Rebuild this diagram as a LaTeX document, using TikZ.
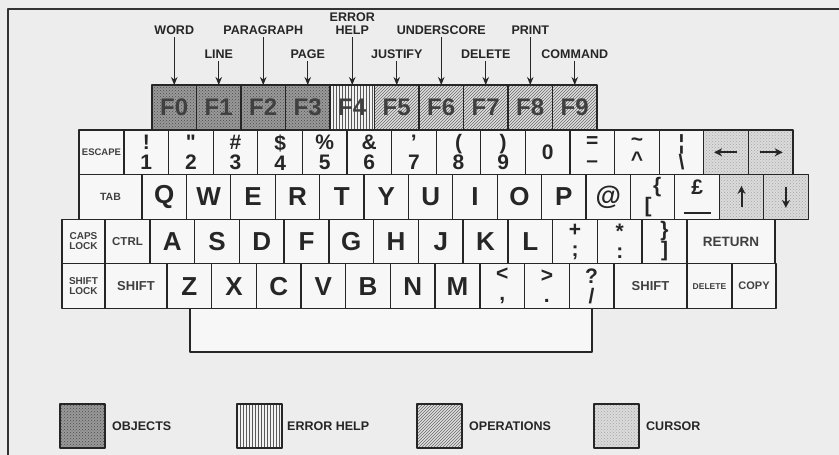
\documentclass[tikz,border=0pt]{standalone}
\usepackage{fontspec}
\setmainfont{Liberation Sans}
\newfontfamily\keyfont{Liberation Sans}
\usetikzlibrary{positioning,patterns,arrows.meta}
\tikzset{
  key/.style={draw=black!85,line width=1.3pt,fill=black!3,anchor=north west,inner sep=0pt,outer sep=0pt,
    minimum width=44.6pt,minimum height=44.6pt,align=center,text=black!85},
  bigletter/.style={font=\fontsize{26}{26}\selectfont\bfseries},
  twin/.style={font=\keyfont\fontsize{21}{20}\selectfont\bfseries},
  smallkey/.style={font=\fontsize{#1}{#1}\selectfont\bfseries,text=black!75},
  fkey/.style={minimum width=44.5pt,minimum height=45pt,font=\fontsize{24}{24}\selectfont\bfseries,text=black!75},
  objkey/.style={preaction={fill=black!40},pattern=crosshatch dots,pattern color=black!70},
  helpkey/.style={preaction={fill=black!5},pattern=vertical lines,pattern color=black!65},
  opkey/.style={preaction={fill=black!12},pattern=north east lines,pattern color=black!60},
  cursorkey/.style={preaction={fill=black!14},pattern=crosshatch dots,pattern color=black!35},
  lab/.style={font=\fontsize{12.5}{13}\selectfont\bfseries,text=black!85,align=center,inner sep=2pt},
  legendbox/.style={line width=2.2pt,minimum width=45pt,minimum height=44pt},
  legtext/.style={font=\fontsize{12.5}{13}\selectfont\bfseries,text=black!85,inner sep=2pt},
  curarrow/.style={-{Stealth[length=8pt,width=8pt]},line width=2pt,black!85}
}
\begin{document}
\begin{tikzpicture}[x=1pt,y=-1pt,>={Stealth[length=8pt,width=6.5pt]},line join=round]
\fill[black!7] (0,0) rectangle (839,455);
\useasboundingbox (0,0) rectangle (839,455);
\draw[line width=1.8pt,black!80] (839,9) -- (8,9) -- (8,455);

\foreach \i in {0,...,3}
  \node[key,fkey,objkey] (f\i) at ({152+44.5*\i},85) {F\i};
\node[key,fkey,helpkey] (f4) at (330,85) {F4};
\foreach \i in {5,...,9}
  \node[key,fkey,opkey] (f\i) at ({152+44.5*\i},85) {F\i};

\node[lab,above=48pt of f0] (lword) {WORD};
\node[lab,above=24pt of f1] (lline) {LINE};
\node[lab,above=48pt of f2] (lpara) {PARAGRAPH};
\node[lab,above=24pt of f3] (lpage) {PAGE};
\node[lab,above=48pt of f4] (lerr) {ERROR\\HELP};
\node[lab,above=24pt of f5] (ljust) {JUSTIFY};
\node[lab,above=48pt of f6] (lunder) {UNDERSCORE};
\node[lab,above=24pt of f7] (ldel) {DELETE};
\node[lab,above=48pt of f8] (lprint) {PRINT};
\node[lab,above=24pt of f9] (lcmd) {COMMAND};
\foreach \l/\f in {lword/f0,lline/f1,lpara/f2,lpage/f3,lerr/f4,ljust/f5,lunder/f6,ldel/f7,lprint/f8,lcmd/f9}
  \draw[->,line width=1.2pt,black!85] (\l) -- (\f);

\node[key,smallkey=9.5,minimum width=45pt] (esc) at (79,130) {ESCAPE};
\foreach \t [count=\i from 0] in {{!\\1},{"\\2},{\#\\3},{\$\\4},{\%\\5},{\&\\6},{’\\7},{(\\8},{)\\9},{0},{=\\–},{\textasciitilde\\\textasciicircum},{¦\\\textbackslash}}
  \node[key,twin] (n\i) at ({124+44.6*\i},130) {\t};
\node[key,cursorkey] (n13) at (703.8,130) {};
\node[key,cursorkey] (n14) at (748.4,130) {};
\draw[curarrow] ([xshift=11pt]n13.center) -- ([xshift=-12pt]n13.center);
\draw[curarrow] ([xshift=-11pt]n14.center) -- ([xshift=12pt]n14.center);

\node[key,smallkey=10.5,minimum width=63pt] (tab) at (79,174.6) {TAB};
\foreach \t [count=\i from 0] in {Q,W,E,R,T,Y,U,I,O,P,@}
  \node[key,bigletter] (q\i) at ({142+44.4*\i},174.6) {\t};
\node[key,twin] (q11) at (630.4,174.6) {\hspace*{9pt}\{\\{[}\hspace*{9pt}};
\node[key,twin] (q12) at (674.8,174.6) {£\\[-1pt]\rule{27pt}{1.6pt}};
\node[key,cursorkey] (q13) at (719.2,174.6) {};
\node[key,cursorkey] (q14) at (763.6,174.6) {};
\draw[curarrow] ([yshift=-10pt]q13.center) -- ([yshift=11pt]q13.center);
\draw[curarrow] ([yshift=10pt]q14.center) -- ([yshift=-11pt]q14.center);

\node[key,smallkey=10,minimum width=43pt] (caps) at (62,219.2) {CAPS\\LOCK};
\node[key,smallkey=11.5,minimum width=45pt] (ctrl) at (105,219.2) {CTRL};
\foreach \t [count=\i from 0] in {A,S,D,F,G,H,J,K,L}
  \node[key,bigletter] (a\i) at ({150+44.75*\i},219.2) {\t};
\foreach \t [count=\i from 9] in {{+\\;},{*\\:},{\}\\]}}
  \node[key,twin] (a\i) at ({150+44.75*\i},219.2) {\t};
\node[key,smallkey=13.5,minimum width=88pt] (ret) at (687,219.2) {RETURN};

\node[key,smallkey=10,minimum width=43pt] (slock) at (62,263.8) {SHIFT\\LOCK};
\node[key,smallkey=13,minimum width=62pt] (lshift) at (105,263.8) {SHIFT};
\foreach \t [count=\i from 0] in {Z,X,C,V,B,N,M}
  \node[key,bigletter] (z\i) at ({167+44.7*\i},263.8) {\t};
\foreach \t [count=\i from 7] in {{<\\,},{>\\.},{?\\/}}
  \node[key,twin] (z\i) at ({167+44.7*\i},263.8) {\t};
\node[key,smallkey=13,minimum width=73pt] (rshift) at (614,263.8) {SHIFT};
\node[key,smallkey=8.5,minimum width=45pt] (del) at (687,263.8) {DELETE};
\node[key,smallkey=11,minimum width=44pt] (copy) at (732,263.8) {COPY};
\node[key,minimum width=402pt,minimum height=43.6pt] (space) at (190,308.4) {};

\node[key,legendbox,objkey] (bobj) at (60,404) {};
\node[legtext,right=5pt of bobj] (tobj) {OBJECTS};
\node[key,legendbox,helpkey] (bhelp) at (237,404) {};
\node[legtext,right=3pt of bhelp] (thelp) {ERROR HELP};
\node[key,legendbox,opkey] (bop) at (417,404) {};
\node[legtext,right=5pt of bop] (top) {OPERATIONS};
\node[key,legendbox,cursorkey] (bcur) at (594,404) {};
\node[legtext,right=5pt of bcur] (tcur) {CURSOR};
\end{tikzpicture}
\end{document}
